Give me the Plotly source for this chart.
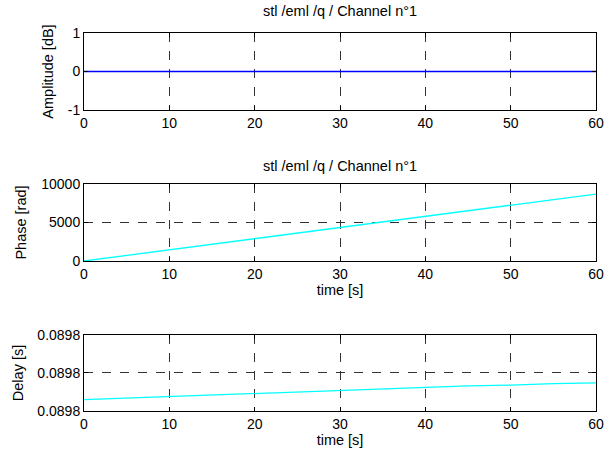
import plotly.graph_objects as go

# ---- data ----
time_s = [0, 5, 10, 15, 20, 25, 30, 35, 40, 45, 50, 55, 60]
amplitude_db = [0, 0, 0, 0, 0, 0, 0, 0, 0, 0, 0, 0, 0]
phase_rad = [0, 725, 1450, 2175, 2900, 3625, 4350, 5075, 5800, 6525, 7250, 7975, 8700]
delay_s = [0.0897965, 0.0897967, 0.0897969, 0.0897971, 0.0897973, 0.0897975, 0.0897977,
           0.0897979, 0.0897981, 0.0897983, 0.0897984, 0.0897986, 0.0897987]
title_text = "stl /eml /q / Channel n°1"
x_ticks = [0, 10, 20, 30, 40, 50, 60]
amp_ticks = [-1, 0, 1]
amp_tick_labels = ["-1", "0", "1"]
phase_ticks = [0, 5000, 10000]
delay_ticks = [0.089795, 0.0898, 0.089805]

FONT = "Liberation Sans, Arial, sans-serif"
fig = go.Figure()
fig.add_trace(go.Scatter(x=time_s, y=amplitude_db, mode="lines",
                         line=dict(color="#0000ff", width=1.5), xaxis="x", yaxis="y"))
fig.add_trace(go.Scatter(x=time_s, y=phase_rad, mode="lines",
                         line=dict(color="#00ffff", width=1.3), xaxis="x2", yaxis="y2"))
fig.add_trace(go.Scatter(x=time_s, y=delay_s, mode="lines",
                         line=dict(color="#00ffff", width=1.3), xaxis="x3", yaxis="y3"))

common_x = dict(range=[0, 60], tickvals=x_ticks, showline=True, linecolor="black", linewidth=1,
                mirror="ticks", ticks="inside", ticklen=4, tickcolor="black",
                showgrid=True, gridcolor="#333333", griddash="dash", gridwidth=1,
                zeroline=False, tickfont=dict(size=14, color="black", family=FONT))
common_y = dict(showline=True, linecolor="black", linewidth=1, mirror="ticks",
                ticks="inside", ticklen=4, tickcolor="black",
                showgrid=True, gridcolor="#333333", griddash="dash", gridwidth=1,
                zeroline=False, tickfont=dict(size=14, color="black", family=FONT))

fig.update_layout(
    width=614, height=461,
    margin=dict(l=84, r=10, t=33, b=50),
    paper_bgcolor="white", plot_bgcolor="white",
    showlegend=False,
    font=dict(family=FONT, size=14, color="black"),
    xaxis=dict(**common_x, domain=[0, 1], anchor="y"),
    yaxis=dict(**common_y, domain=[0.7963, 1.0], range=[-1, 1], tickvals=amp_ticks,
               ticktext=amp_tick_labels,
               title=dict(text="Amplitude [dB]", standoff=10, font=dict(size=14.5))),
    xaxis2=dict(**common_x, domain=[0, 1], anchor="y2",
                title=dict(text="time [s]", standoff=3, font=dict(size=14.5))),
    yaxis2=dict(**common_y, domain=[0.3968, 0.6005], range=[0, 10000], tickvals=phase_ticks,
                tickformat="d",
                title=dict(text="Phase [rad]", standoff=11, font=dict(size=14.5))),
    xaxis3=dict(**common_x, domain=[0, 1], anchor="y3",
                title=dict(text="time [s]", standoff=3, font=dict(size=14.5))),
    yaxis3=dict(**common_y, domain=[0.0, 0.2011], range=[0.089795, 0.089805],
                tickvals=delay_ticks, tickformat=".4f",
                title=dict(text="Delay [s]", standoff=10, font=dict(size=14.5))),
    annotations=[
        dict(text=title_text, xref="paper", yref="paper", x=0.5, y=1.058,
             showarrow=False, font=dict(size=14.5, color="black"), yanchor="middle"),
        dict(text=title_text, xref="paper", yref="paper", x=0.5, y=0.648,
             showarrow=False, font=dict(size=14.5, color="black"), yanchor="middle"),
    ],
)

fig.write_html("out.html")
